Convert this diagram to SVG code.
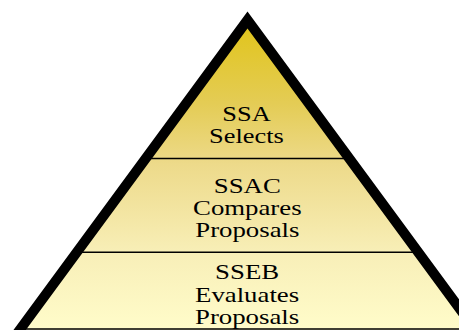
<svg xmlns="http://www.w3.org/2000/svg" width="459" height="330" viewBox="0 0 459 330">
  <defs>
    <linearGradient id="fillGrad" gradientUnits="userSpaceOnUse" x1="0" y1="28" x2="0" y2="330">
      <stop offset="0" stop-color="#E1C51E"/>
      <stop offset="0.25" stop-color="#E4CC55"/>
      <stop offset="0.45" stop-color="#EDDA8A"/>
      <stop offset="0.75" stop-color="#F8EFB8"/>
      <stop offset="1" stop-color="#FFFCCA"/>
    </linearGradient>
    <style>
      .lbl { font-family: "Liberation Serif", "Times New Roman", serif; font-size: 20px; fill: #000; text-anchor: middle; }
      .div { stroke: #000; stroke-width: 1.4; fill: none; }
    </style>
  </defs>
  <rect width="459" height="330" fill="#FFFFFF"/>
  <polygon points="247.5,20 12.3,340 482.7,340" fill="url(#fillGrad)"/>
  <g id="dividers">
    <line class="div" x1="146" y1="158.5" x2="349" y2="158.5"/>
    <line class="div" x1="78" y1="252.3" x2="417" y2="252.3"/>
    <line class="div" x1="20" y1="329" x2="475" y2="329"/>
  </g>
  <g id="tier-ssa">
    <g transform="translate(246.5,0) scale(1.32,1)">
      <text class="lbl" x="0" y="121">SSA</text>
      <text class="lbl" x="0" y="143.3">Selects</text>
    </g>
  </g>
  <g id="tier-ssac">
    <g transform="translate(247.3,0) scale(1.34,1)">
      <text class="lbl" x="0" y="192.7">SSAC</text>
      <text class="lbl" x="0" y="215">Compares</text>
      <text class="lbl" x="0" y="237.3">Proposals</text>
    </g>
  </g>
  <g id="tier-sseb">
    <g transform="translate(247.1,0) scale(1.34,1)">
      <text class="lbl" x="0" y="279.3">SSEB</text>
      <text class="lbl" x="0" y="301.7">Evaluates</text>
      <text class="lbl" x="0" y="324">Proposals</text>
    </g>
  </g>
  <g id="outline">
    <path d="M 12.3,340 L 247.5,20 L 482.7,340" fill="none" stroke="#000" stroke-width="10" stroke-linejoin="miter" stroke-miterlimit="10"/>
  </g>
</svg>
